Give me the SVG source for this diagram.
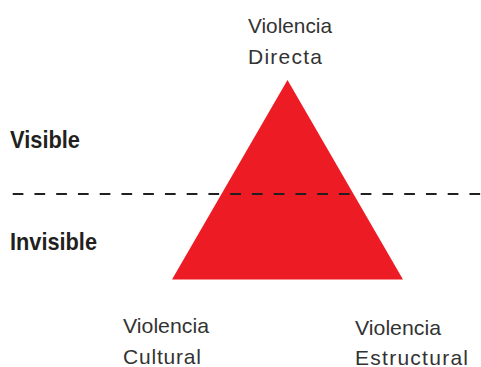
<svg xmlns="http://www.w3.org/2000/svg" width="481" height="367" viewBox="0 0 481 367">
<style>
.lbl{font-family:"Liberation Sans",Arial,sans-serif;font-size:21px;fill:#333333;}
.zone{font-family:"Liberation Sans",Arial,sans-serif;font-size:24px;font-weight:bold;fill:#231f20;}
</style>
<rect width="481" height="367" fill="#ffffff"/>
<g id="triangle">
<polygon points="287.5,80 172,279.5 403,279.5" fill="#ed1c24"/>
</g>
<g id="connectors">
<line x1="12.7" y1="194" x2="481" y2="194" stroke="#231f20" stroke-width="2.2" stroke-dasharray="10.7 11.05"/>
</g>
<g id="zone-visible"><text class="zone" x="10" y="147.7" textLength="70" lengthAdjust="spacingAndGlyphs">Visible</text></g>
<g id="zone-invisible"><text class="zone" x="10" y="250" textLength="87" lengthAdjust="spacingAndGlyphs">Invisible</text></g>
<g id="node-directa"><text class="lbl" x="248" y="33.3" textLength="84" lengthAdjust="spacingAndGlyphs">Violencia</text><text class="lbl" x="248" y="64.3" textLength="74" lengthAdjust="spacing">Directa</text></g>
<g id="node-cultural"><text class="lbl" x="123" y="332.7" textLength="86" lengthAdjust="spacingAndGlyphs">Violencia</text><text class="lbl" x="123" y="363.5" textLength="78" lengthAdjust="spacing">Cultural</text></g>
<g id="node-estructural"><text class="lbl" x="355" y="334.5" textLength="86" lengthAdjust="spacingAndGlyphs">Violencia</text><text class="lbl" x="355" y="364.5" textLength="113" lengthAdjust="spacing">Estructural</text></g>
</svg>
